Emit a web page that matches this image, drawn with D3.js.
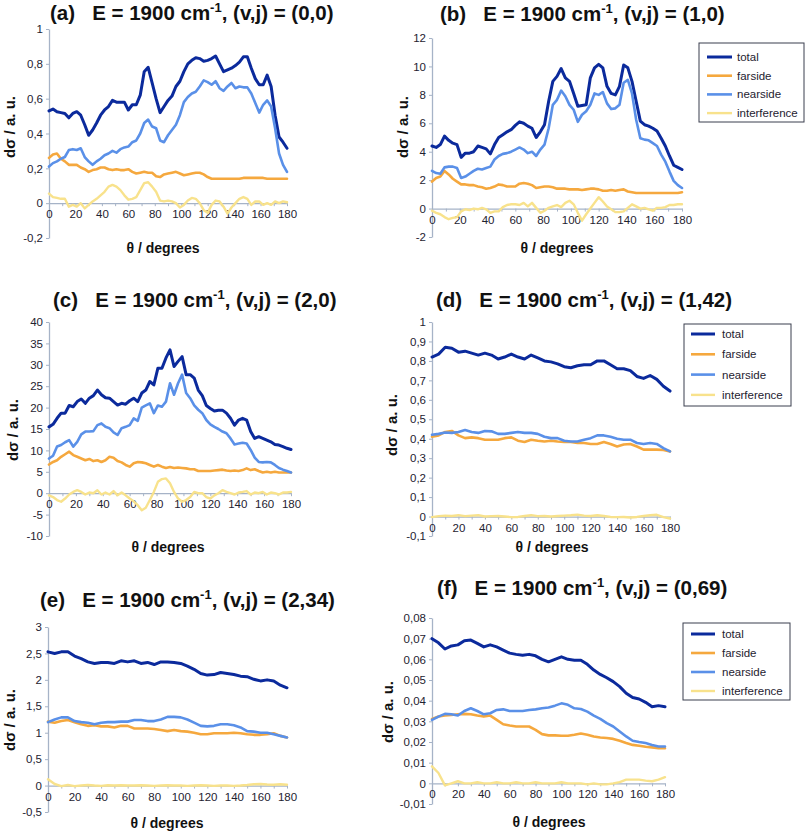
<!DOCTYPE html>
<html lang="en">
<head>
    <meta charset="UTF-8">
    <title>Differential cross sections</title>
    <script src="https://d3js.org/d3.v7.min.js"></script>
    <style>
        body { margin: 0; background: #fff; }
        text { font-family: "Liberation Sans", Arial, Helvetica, sans-serif; }
    </style>
</head>
<body>
    <script>
        // angle grids
        var thetaFine = [0,3,6,9,12,15,18,21,24,27,30,33,36,39,42,45,48,51,54,57,60,63,66,69,72,75,78,81,84,87,
            90,93,96,99,102,105,108,111,114,117,120,123,126,129,132,135,138,141,144,147,150,153,156,159,162,165,168,171,174,177,180];
        var thetaCoarse = [0,5,10,15,20,25,30,35,40,45,50,55,60,65,70,75,80,85,90,95,100,105,110,115,120,125,130,135,140,145,150,155,160,165,170,175,180];

        var seriesNames = ["total", "farside", "nearside", "interference"];
        var xTicks = [0,20,40,60,80,100,120,140,160,180];

        // (a) (v,j) = (0,0)
        var totalA = [0.53,0.54,0.525,0.52,0.515,0.49,0.515,0.525,0.505,0.45,
            0.39,0.42,0.46,0.505,0.535,0.555,0.59,0.58,0.58,0.58,
            0.535,0.565,0.565,0.62,0.755,0.78,0.69,0.60,0.52,0.555,
            0.59,0.615,0.67,0.70,0.755,0.80,0.82,0.835,0.83,0.815,
            0.82,0.83,0.845,0.80,0.755,0.765,0.775,0.79,0.81,0.84,
            0.84,0.775,0.715,0.68,0.68,0.735,0.67,0.505,0.38,0.35,0.315];
        var farsideA = [0.26,0.28,0.285,0.255,0.24,0.22,0.22,0.22,0.205,0.195,
            0.18,0.19,0.195,0.205,0.205,0.195,0.19,0.195,0.19,0.19,
            0.195,0.18,0.17,0.175,0.18,0.175,0.175,0.155,0.15,0.165,
            0.17,0.175,0.18,0.17,0.16,0.165,0.17,0.175,0.175,0.165,
            0.15,0.14,0.14,0.14,0.14,0.14,0.14,0.14,0.14,0.145,
            0.145,0.145,0.145,0.145,0.145,0.14,0.14,0.14,0.14,0.14,0.14];
        var nearsideA = [0.21,0.23,0.24,0.255,0.265,0.305,0.31,0.305,0.315,0.265,
            0.24,0.22,0.24,0.255,0.275,0.285,0.30,0.29,0.31,0.32,
            0.325,0.35,0.36,0.40,0.46,0.48,0.44,0.43,0.36,0.35,
            0.39,0.42,0.45,0.505,0.58,0.61,0.63,0.64,0.67,0.705,
            0.695,0.68,0.70,0.66,0.645,0.67,0.69,0.66,0.67,0.665,
            0.665,0.63,0.575,0.52,0.565,0.59,0.555,0.43,0.285,0.22,0.18];
        var interfA = [0.055,0.035,0.03,0.025,0.025,-0.02,-0.01,-0.02,0,-0.03,
            -0.01,0.01,0.025,0.045,0.065,0.095,0.105,0.095,0.075,0.045,
            0.02,0.025,0.035,0.075,0.115,0.12,0.095,0.065,0.015,0.01,
            0.015,0.01,0,-0.025,-0.01,0.015,0.03,0.025,0,-0.04,
            -0.055,-0.01,0.015,0.01,-0.02,-0.06,-0.025,0,0.025,0.035,
            0.025,-0.01,0.01,0.01,-0.01,0,-0.01,0.01,0,0.01,0.005];

        // (b) (v,j) = (1,0)
        var totalB = [4.4,4.3,4.5,5.1,4.8,4.6,4.5,3.6,3.9,3.9,
            4.0,4.4,4.3,4.2,3.85,4.5,5.0,5.2,5.4,5.55,
            5.85,6.1,6.0,5.8,5.65,5.0,5.4,5.9,7.55,8.95,
            9.3,9.85,9.2,8.95,8.1,7.2,7.25,7.3,9.2,9.9,
            10.15,9.9,8.6,8.1,8.0,8.6,10.1,9.9,8.95,7.55,
            6.15,5.9,5.8,5.65,5.45,4.95,4.4,3.7,3.05,2.9,2.75];
        var farsideB = [1.9,2.15,2.25,2.65,2.4,2.1,1.9,1.7,1.7,1.65,
            1.65,1.55,1.5,1.4,1.45,1.55,1.7,1.65,1.55,1.55,
            1.55,1.75,1.8,1.75,1.65,1.45,1.5,1.55,1.55,1.5,
            1.4,1.4,1.4,1.35,1.35,1.35,1.3,1.35,1.4,1.4,
            1.35,1.25,1.25,1.3,1.25,1.3,1.35,1.2,1.15,1.1,
            1.1,1.1,1.1,1.1,1.1,1.1,1.1,1.1,1.1,1.1,1.15];
        var nearsideB = [2.65,2.5,2.45,2.9,2.95,2.95,2.85,2.15,2.25,2.45,
            2.65,2.8,2.75,2.85,2.95,3.45,3.7,3.85,3.9,4.0,
            4.15,4.3,4.15,3.9,4.0,3.7,4.15,4.5,5.65,7.3,
            7.65,8.3,7.9,7.3,6.95,6.1,6.6,6.85,7.3,8.1,
            8.0,8.2,7.4,7.0,7.05,7.3,8.85,9.05,8.1,6.25,
            4.95,4.85,4.8,4.6,4.4,3.8,3.3,2.6,1.95,1.65,1.45];
        var interfB = [-0.15,-0.3,-0.4,-0.6,-0.75,-0.65,-0.6,-0.2,-0.05,-0.1,
            0,-0.05,0.05,-0.05,-0.3,-0.2,-0.2,0.1,0.25,0.3,
            0.3,0.25,0.4,0.15,0.4,0.05,-0.3,-0.15,0.05,0.15,
            0.25,0.1,0.4,0.55,0.3,-0.3,-0.85,-0.4,0,0.4,
            0.8,0.5,0.15,-0.05,-0.25,-0.25,-0.2,0.05,0.3,0.15,
            0,0.05,-0.05,-0.15,0.05,0.05,0.1,0.25,0.25,0.3,0.3];

        // (c) (v,j) = (2,0)
        var totalC = [15.5,16.1,17.5,18.7,18.7,20.5,20.2,21.4,22.0,21.0,
            22.2,22.8,24.1,23.0,22.3,22.2,21.4,20.6,21.0,20.8,
            21.6,22.2,21.4,23.4,24.1,26.1,25.3,29.2,29.2,31.6,
            33.5,29.6,30.8,31.9,27.7,27.7,26.9,24.1,22.8,20.5,
            19.8,19.2,19.4,19.4,18.7,17.5,15.9,17.1,17.5,17.1,
            14.4,12.8,13.2,12.8,12.4,12.0,11.4,11.25,10.9,10.5,10.2];
        var farsideC = [6.7,7.3,7.7,8.5,9.1,9.7,8.9,8.5,8.1,7.7,
            8.0,7.5,7.7,7.3,7.7,8.5,8.3,7.5,7.2,6.6,
            6.2,7.0,7.3,7.2,7.0,6.6,6.2,6.6,6.2,5.9,
            6.1,5.9,6.0,5.9,5.8,5.6,5.6,5.2,5.2,5.2,
            5.2,5.3,5.4,5.5,5.3,5.2,5.3,5.2,5.4,5.8,
            5.4,5.6,5.2,4.85,5.0,4.85,5.0,4.85,4.85,4.85,4.85];
        var nearsideC = [8.1,8.75,10.9,11.25,11.9,12.4,10.9,12.0,13.75,14.4,
            14.4,14.5,15.9,16.3,15.5,15.2,14.2,13.6,15.2,15.5,
            15.9,17.5,16.9,20.0,20.5,21.0,18.7,20.5,20.2,21.4,
            25.7,23.0,25.7,27.7,23.4,22.2,20.5,19.5,18.7,17.1,
            16.1,15.5,15.0,14.4,14.0,12.8,11.4,11.6,11.8,11.6,
            10.1,8.3,7.3,7.2,7.3,7.2,6.6,5.9,5.5,5.2,4.85];
        var interfC = [-0.5,-0.9,-1.6,-2.0,-1.25,-0.3,0.3,0.7,0.3,-0.3,
            0.15,0,0.7,-0.3,0.15,-0.3,0.5,-0.5,0.15,-0.5,
            -1.25,-1.9,-2.8,-4.0,-3.4,-1.6,0.3,2.65,3.3,3.45,
            2.3,0.3,-1.25,-2.0,-1.6,-0.9,0.3,0,0,-0.9,
            -1.25,-0.5,0,0.7,0.3,0,-0.3,0.15,0.3,0.5,
            -0.3,0.15,0,0.3,-0.3,0.15,0,-0.3,0.15,0.15,0.3];

        // (d) (v,j) = (1,42)
        var totalD = [0.82,0.835,0.87,0.865,0.845,0.85,0.84,0.83,0.84,0.83,
            0.81,0.82,0.835,0.82,0.81,0.83,0.815,0.80,0.795,0.785,
            0.77,0.765,0.775,0.78,0.78,0.80,0.80,0.78,0.76,0.76,
            0.75,0.72,0.71,0.725,0.705,0.67,0.645];
        var farsideD = [0.41,0.417,0.435,0.44,0.417,0.403,0.407,0.403,0.395,0.395,
            0.395,0.403,0.407,0.39,0.383,0.395,0.39,0.386,0.39,0.386,
            0.383,0.383,0.378,0.378,0.373,0.373,0.383,0.373,0.36,0.37,
            0.373,0.36,0.344,0.344,0.344,0.342,0.335];
        var nearsideD = [0.42,0.425,0.432,0.43,0.435,0.445,0.435,0.43,0.44,0.438,
            0.425,0.425,0.43,0.435,0.43,0.43,0.425,0.41,0.403,0.403,
            0.39,0.386,0.386,0.395,0.403,0.417,0.417,0.41,0.40,0.395,
            0.395,0.378,0.373,0.378,0.373,0.352,0.335];
        var interfD = [-0.003,0.002,0.005,0.003,0.007,0.002,0.005,0.007,0,0.002,
            0.003,0,-0.003,-0.002,0.003,0.007,0.002,0.003,0,0.003,
            0.005,0.007,0.01,0.005,0.003,0.007,0.003,-0.002,-0.003,-0.002,
            -0.005,-0.002,0.003,0.007,0.009,-0.003,-0.01];

        // (e) (v,j) = (2,34)
        var totalE = [2.53,2.5,2.53,2.53,2.45,2.4,2.34,2.31,2.33,2.33,
            2.31,2.36,2.34,2.36,2.31,2.33,2.29,2.34,2.34,2.33,
            2.31,2.26,2.2,2.12,2.09,2.1,2.14,2.12,2.1,2.07,
            2.06,2.01,1.98,2.0,1.98,1.9,1.85];
        var farsideE = [1.21,1.19,1.22,1.24,1.2,1.16,1.13,1.14,1.12,1.12,
            1.1,1.13,1.13,1.08,1.08,1.08,1.07,1.05,1.03,1.05,
            1.03,1.02,1.0,0.97,0.97,0.99,0.99,0.99,1.0,0.99,
            0.97,0.96,0.96,0.97,0.99,0.94,0.91];
        var nearsideE = [1.2,1.25,1.29,1.29,1.22,1.2,1.19,1.16,1.19,1.2,
            1.2,1.21,1.21,1.24,1.24,1.22,1.22,1.25,1.3,1.3,
            1.29,1.25,1.19,1.13,1.12,1.13,1.16,1.16,1.14,1.1,
            1.03,1.02,1.0,1.0,0.97,0.94,0.91];
        var interfE = [0.12,0.03,-0.01,0.01,-0.01,0,0.01,0,-0.005,0.005,
            0,0.005,0,0,0.005,0,-0.005,0,0.005,0,
            0,-0.005,0,0.005,0,-0.005,0,0,-0.005,0,
            0.01,0.025,0.03,0.02,0.015,0.025,0.015];

        // (f) (v,j) = (0,69)
        var totalF = [0.070,0.068,0.065,0.0665,0.067,0.069,0.0693,0.0677,0.066,0.067,
            0.066,0.0645,0.063,0.0624,0.062,0.0624,0.0617,0.060,0.0588,0.060,
            0.0612,0.060,0.0596,0.0596,0.0576,0.0548,0.0527,0.0511,0.0492,0.0468,
            0.0436,0.0415,0.0408,0.0392,0.0371,0.0376,0.0371];
        var farsideF = [0.0312,0.0323,0.0328,0.0331,0.0334,0.0336,0.0334,0.0328,0.0323,0.0328,
            0.0307,0.0286,0.028,0.0275,0.0275,0.0275,0.0259,0.0238,0.0232,0.0232,
            0.023,0.023,0.0235,0.0241,0.0235,0.0227,0.0222,0.0219,0.0215,0.0206,
            0.0195,0.0186,0.0182,0.0177,0.0174,0.017,0.017];
        var nearsideF = [0.0307,0.0323,0.0336,0.0334,0.0328,0.035,0.0363,0.035,0.0334,0.0339,
            0.0355,0.0358,0.035,0.035,0.035,0.0355,0.0358,0.0363,0.0367,0.0376,
            0.0387,0.038,0.0363,0.036,0.0347,0.0328,0.0312,0.0291,0.0275,0.0251,
            0.0227,0.0206,0.02,0.0195,0.0186,0.0178,0.0178];
        var interfF = [0.0082,0.005,-0.001,0,0.001,0,0,0.0005,0,0,
            0.0005,0,0,0.0005,0,0,0.0005,0,0,0,
            0.0005,0,0,0,-0.0005,0,-0.0005,-0.0005,0,0.0006,
            0.0018,0.0018,0.0018,0.0013,0.001,0.0018,0.003];

        // y tick labels
        var yTicksA = [-0.2,0,0.2,0.4,0.6,0.8,1];
        var yTicksB = [-2,0,2,4,6,8,10,12];
        var yTicksC = [-10,-5,0,5,10,15,20,25,30,35,40];
        var yTicksD = [-0.1,0,0.1,0.2,0.3,0.4,0.5,0.6,0.7,0.8,0.9,1];
        var yTicksE = [-0.5,0,0.5,1,1.5,2,2.5,3];
        var yTicksF = [-0.01,0,0.01,0.02,0.03,0.04,0.05,0.06,0.07,0.08];

        var colors = {
            total: "#0b2a9c",
            farside: "#f5a83e",
            nearside: "#5a90e8",
            interference: "#f8e28c"
        };
        var widths = { total: 3, farside: 2.6, nearside: 2.6, interference: 2.4 };
        var axisColor = "#a6b3c7";
        var textColor = "#1e2230";

        var w = 805;
        var h = 832;

        var svg = d3.select("body")
            .append("svg")
            .attr("width", w)
            .attr("height", h);

        svg.append("rect").attr("width", w).attr("height", h).attr("fill", "#fff");

        var fmt = d3.formatLocale({
            decimal: ",", thousands: ".", grouping: [3], currency: ["", ""], minus: "-"
        }).format("~g");

        var panels = [
            { tag: "(a)", vj: "(0,0)", theta: thetaFine, data: [totalA, farsideA, nearsideA, interfA], yTicks: yTicksA,
              left: 49, right: 287, top: 29, bottom: 238, titleX: 50, titleY: 20,
              ylab: [10, 127], xlab: [163, 253], legend: null },
            { tag: "(b)", vj: "(1,0)", theta: thetaFine, data: [totalB, farsideB, nearsideB, interfB], yTicks: yTicksB,
              left: 432, right: 682, top: 38, bottom: 237, titleX: 440, titleY: 21,
              ylab: [403, 127], xlab: [557, 253],
              legend: { x: 699, y: 43, w: 105, h: 79, row0: 57, step: 18.7, l0: 707, l1: 732, tx: 737 } },
            { tag: "(c)", vj: "(2,0)", theta: thetaFine, data: [totalC, farsideC, nearsideC, interfC], yTicks: yTicksC,
              left: 49, right: 291, top: 322, bottom: 536, titleX: 53, titleY: 307,
              ylab: [13, 430], xlab: [168, 552], legend: null },
            { tag: "(d)", vj: "(1,42)", theta: thetaCoarse, data: [totalD, farsideD, nearsideD, interfD], yTicks: yTicksD,
              left: 432, right: 670, top: 322, bottom: 536, titleX: 436, titleY: 307,
              ylab: [392, 425], xlab: [552, 552],
              legend: { x: 684, y: 324, w: 107, h: 82, row0: 334, step: 20.3, l0: 691, l1: 715, tx: 722 } },
            { tag: "(e)", vj: "(2,34)", theta: thetaCoarse, data: [totalE, farsideE, nearsideE, interfE], yTicks: yTicksE,
              left: 48, right: 287, top: 627, bottom: 812, titleX: 40, titleY: 607,
              ylab: [10, 720], xlab: [167, 828], legend: null },
            { tag: "(f)", vj: "(0,69)", theta: thetaCoarse, data: [totalF, farsideF, nearsideF, interfF], yTicks: yTicksF,
              left: 432, right: 665, top: 618, bottom: 804, titleX: 437, titleY: 595,
              ylab: [388, 712], xlab: [549, 827],
              legend: { x: 683, y: 623, w: 107, h: 77, row0: 634, step: 19, l0: 691, l1: 715, tx: 722 } }
        ];

        function drawPanel(p) {
            var g = svg.append("g");
            var x = d3.scaleLinear().domain([0, 180]).range([p.left, p.right]);
            var y = d3.scaleLinear()
                .domain([p.yTicks[0], p.yTicks[p.yTicks.length - 1]])
                .range([p.bottom, p.top]);

            // y axis at theta = 0
            var yAx = g.append("g")
                .attr("transform", "translate(" + x(0) + ",0)")
                .call(d3.axisLeft(y).tickValues(p.yTicks).tickSize(3).tickSizeOuter(0).tickPadding(3).tickFormat(fmt));

            // x axis drawn along zero
            var xAx = g.append("g")
                .attr("transform", "translate(0," + y(0) + ")")
                .call(d3.axisBottom(x).tickValues(d3.range(0, 181, 10)).tickSize(3).tickSizeOuter(0).tickPadding(4)
                    .tickFormat(function(d) { return xTicks.indexOf(d) >= 0 ? d : ""; }));

            [yAx, xAx].forEach(function(a) {
                a.attr("font-family", null).attr("font-size", null);
                a.select(".domain").attr("stroke", axisColor).attr("stroke-width", 1.3);
                a.selectAll(".tick line").attr("stroke", axisColor).attr("stroke-width", 1);
                a.selectAll(".tick text").attr("fill", textColor).style("font-size", "11.5px");
            });

            // series
            p.data.forEach(function(vals, k) {
                var name = seriesNames[k];
                var line = d3.line()
                    .x(function(d, i) { return x(p.theta[i]); })
                    .y(function(d) { return y(d); });
                g.append("path")
                    .datum(vals)
                    .attr("d", line)
                    .attr("fill", "none")
                    .attr("stroke", colors[name])
                    .attr("stroke-width", widths[name])
                    .attr("stroke-linejoin", "round")
                    .attr("stroke-linecap", "round");
            });

            // title
            var t = g.append("text")
                .attr("x", p.titleX)
                .attr("y", p.titleY)
                .attr("fill", "#111")
                .style("font-size", "20.5px")
                .style("font-weight", "bold")
                .style("white-space", "pre");
            t.append("tspan").text(p.tag + "   E = 1900 cm");
            t.append("tspan").attr("dy", -8).style("font-size", "13px").text("-1");
            t.append("tspan").attr("dy", 8).text(", (v,j) = " + p.vj);

            g.append("text")
                .attr("x", p.xlab[0])
                .attr("y", p.xlab[1])
                .attr("text-anchor", "middle")
                .attr("fill", "#111")
                .style("font-size", "14px")
                .style("font-weight", "bold")
                .text("\u03b8 / degrees");

            // legend
            if (p.legend) {
                var L = p.legend;
                var lg = g.append("g");
                lg.append("rect")
                    .attr("x", L.x).attr("y", L.y)
                    .attr("width", L.w).attr("height", L.h)
                    .attr("fill", "#fff")
                    .attr("stroke", "#3a3f4e")
                    .attr("stroke-width", 1);
                seriesNames.forEach(function(name, i) {
                    var ry = L.row0 + i * L.step;
                    lg.append("line")
                        .attr("x1", L.l0).attr("x2", L.l1)
                        .attr("y1", ry).attr("y2", ry)
                        .attr("stroke", colors[name])
                        .attr("stroke-width", widths[name]);
                    lg.append("text")
                        .attr("x", L.tx).attr("y", ry)
                        .attr("dy", "0.35em")
                        .attr("fill", textColor)
                        .style("font-size", "11.5px")
                        .text(name);
                });
            }
        }

        panels.forEach(drawPanel);

        // y axis titles, drawn last so nothing sits over them
        svg.append("g").selectAll("text")
            .data(panels)
            .join("text")
            .attr("transform", function(p) { return "translate(" + p.ylab[0] + "," + p.ylab[1] + ") rotate(-90)"; })
            .attr("text-anchor", "middle")
            .attr("dy", "0.35em")
            .attr("fill", "#111")
            .style("font-size", "15px")
            .style("font-weight", "bold")
            .text("d\u03c3 / a. u.");
    </script>
</body>
</html>
